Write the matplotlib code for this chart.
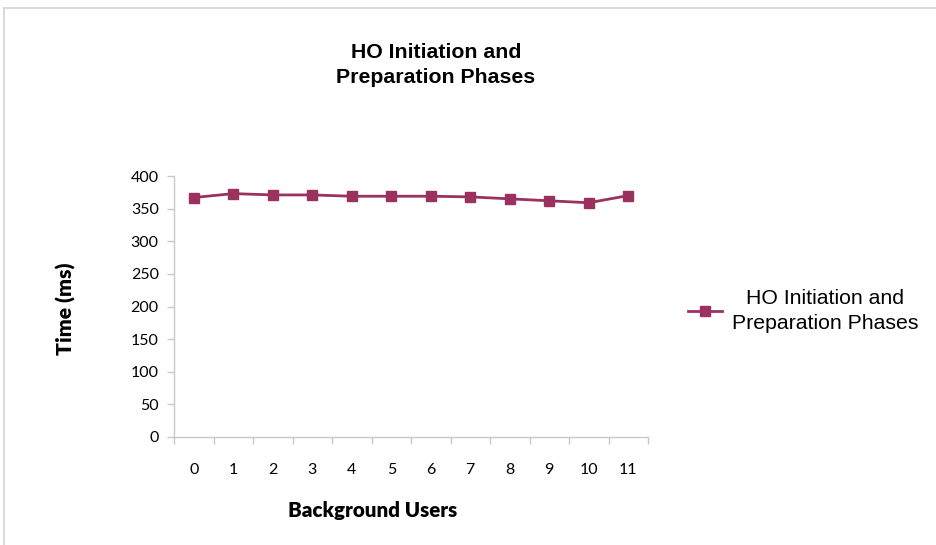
import matplotlib
matplotlib.use("Agg")
import matplotlib.pyplot as plt
from matplotlib.lines import Line2D
from matplotlib.ticker import FixedLocator, NullFormatter

users = list(range(12))
time_ms = [367, 373, 371, 371, 369, 369, 369, 368, 365, 362, 359, 370]
series_name = "HO Initiation and\nPreparation Phases"
title = "HO Initiation and\nPreparation Phases"
y_ticks = [0, 50, 100, 150, 200, 250, 300, 350, 400]

W, H = 936, 545
fig = plt.figure(figsize=(W / 100, H / 100), dpi=100)
fig.patch.set_facecolor("white")

def fx(px):
    return px / W

def fy(py):
    return 1 - py / H

# chart frame
fig.add_artist(Line2D([fx(4), 1], [fy(8), fy(8)], color="#d4d4d4", lw=1.2))
fig.add_artist(Line2D([fx(4), fx(4)], [fy(8), 0], color="#d4d4d4", lw=1.2))

ax = fig.add_axes([fx(174), fy(437), fx(648) - fx(174), fy(176) - fy(437)])
color = "#9b315f"
line, = ax.plot(users, time_ms, color=color, lw=2.0, marker="s", markersize=7.5,
                label=series_name, zorder=3, clip_on=False)

ax.set_xlim(-0.5, 11.5)
ax.set_ylim(0, 400)
ax.set_yticks(y_ticks)
ax.set_xticks(users)
ax.set_xticklabels([str(u) for u in users])
ax.xaxis.set_minor_locator(FixedLocator([i - 0.5 for i in range(13)]))
ax.xaxis.set_minor_formatter(NullFormatter())

for lbl in ax.get_xticklabels() + ax.get_yticklabels():
    lbl.set_fontfamily(["Lato", "DejaVu Sans"])
    lbl.set_fontsize(11.5)
    lbl.set_color("#000000")

ax.tick_params(axis="x", which="major", length=0, pad=19)
ax.tick_params(axis="x", which="minor", length=5, color="#c8c8c8", width=1)
ax.tick_params(axis="y", which="major", length=5, color="#c8c8c8", width=1, pad=6)

for side in ("top", "right"):
    ax.spines[side].set_visible(False)
for side in ("left", "bottom"):
    ax.spines[side].set_color("#c8c8c8")
    ax.spines[side].set_linewidth(1)

fig.text(fx(436), fy(65), title, ha="center", va="center", fontsize=15.3,
         fontweight="bold", family=["Liberation Sans", "DejaVu Sans"], linespacing=1.38)

fig.text(fx(373), fy(511), "Background Users", ha="center", va="center", fontsize=14.8,
         fontweight="heavy", family=["Lato", "DejaVu Sans"])
fig.text(fx(66), fy(309), "Time (ms)", ha="center", va="center", fontsize=15.2,
         fontweight="heavy", family=["Lato", "DejaVu Sans"], rotation=90)

leg = fig.legend(handles=[line], labels=[series_name], loc="center left",
                 bbox_to_anchor=(fx(688), fy(311)), frameon=False,
                 prop=dict(family=["Liberation Sans", "DejaVu Sans"], size=15.3),
                 handlelength=1.6, handletextpad=0.45, borderaxespad=0, borderpad=0)
for t in leg.get_texts():
    t.set_multialignment("center")
    t.set_linespacing(1.38)

fig.savefig("out.png", dpi=100, facecolor="white")
